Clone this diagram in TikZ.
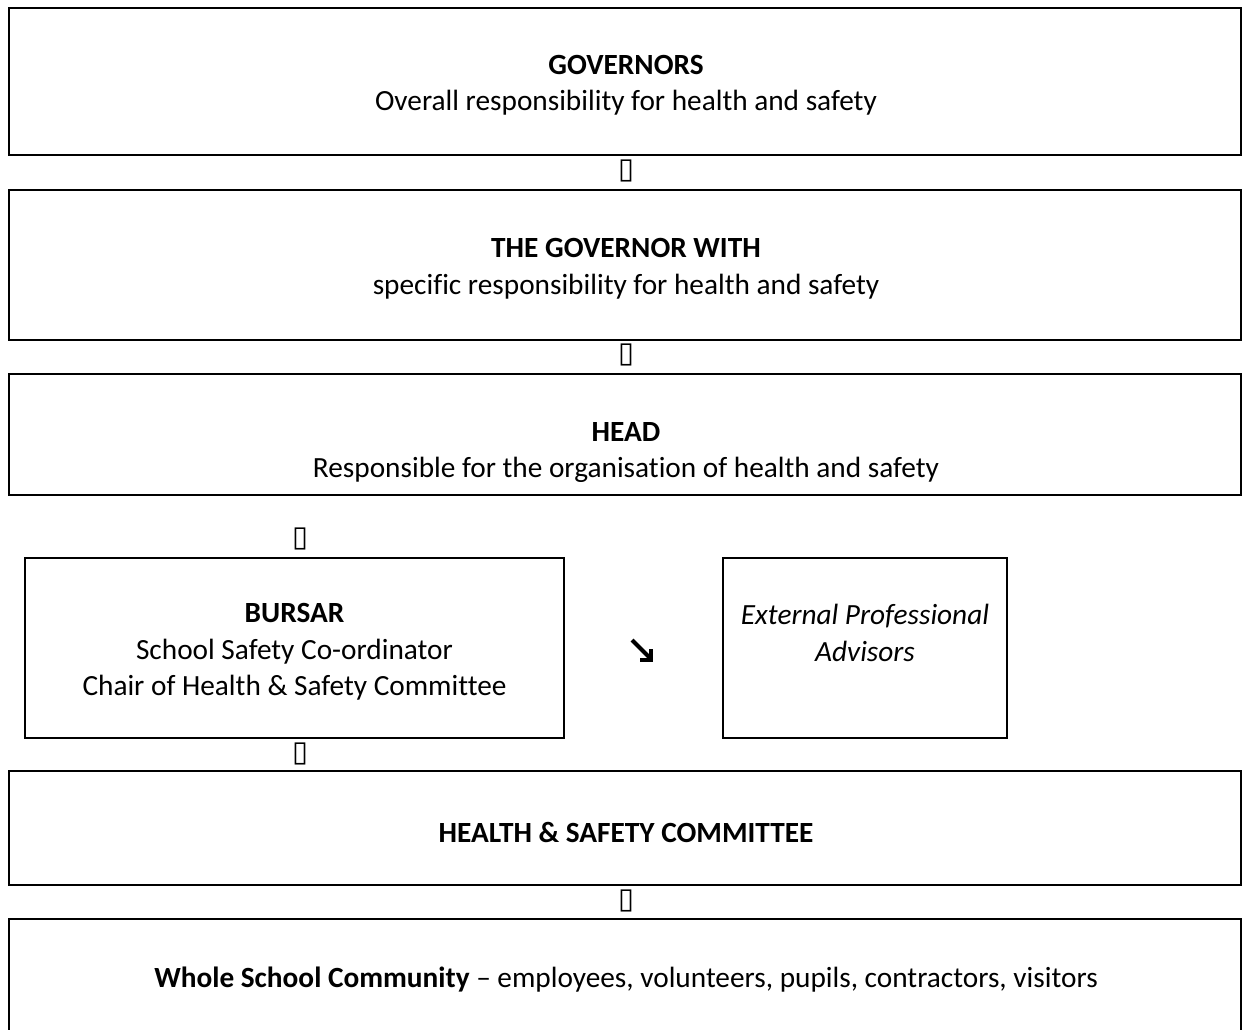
\documentclass[tikz,border=0pt]{standalone}
\usepackage{fontspec}
\setmainfont{Carlito}[Ligatures=NoCommon]
\newfontfamily\symfont{DejaVu Sans}

\begin{document}
\begin{tikzpicture}[x=1pt,y=1pt,
  box/.style={draw,line width=2pt,inner sep=0pt},
  txt/.style={align=center,font=\fontsize{29.3}{36.5}\selectfont,inner sep=0pt},
  gap/.style={font=\symfont\fontsize{29}{29}\selectfont,inner sep=0pt}]
\useasboundingbox (0,0) rectangle (1243,-1029);
\clip (0,0) rectangle (1243,-1029);
% boxes
\node[box,minimum width=1232pt,minimum height=147pt] (governors) at (625,-81.5) {};
\node[box,minimum width=1232pt,minimum height=150pt] (governor) at (625,-265) {};
\node[box,minimum width=1232pt,minimum height=121pt] (head) at (625,-434.5) {};
\node[box,minimum width=539pt,minimum height=180pt] (bursar) at (294.5,-648) {};
\node[box,minimum width=284pt,minimum height=180pt] (advisors) at (865,-648) {};
\node[box,minimum width=1232pt,minimum height=114pt] (committee) at (625,-828) {};
\node[box,minimum width=1232pt,minimum height=200pt] (community) at (625,-1019) {};
% texts
\node[txt] (governorstxt) at (626,-85) {\textbf{GOVERNORS}\\Overall responsibility for health and safety};
\node[txt] (governortxt) at (626,-268.5) {\textbf{THE GOVERNOR WITH}\\specific responsibility for health and safety};
\node[txt] (headtxt) at (626,-452.5) {\textbf{HEAD}\\Responsible for the organisation of health and safety};
\node[txt] (bursartxt) at (294.5,-652) {\textbf{BURSAR}\\School Safety Co-ordinator\\Chair of Health \& Safety Committee};
\node[txt] (advisorstxt) at (865,-633) {\textit{External Professional}\\\textit{Advisors}};
\node[txt] (committeetxt) at (626,-832) {\textbf{HEALTH \& SAFETY COMMITTEE}};
\node[txt] (communitytxt) at (626,-980) {\textbf{Whole School Community} -- employees, volunteers, pupils, contractors, visitors};
% marks between the boxes
\node[gap] (m1) at (626.5,-171) {▯};
\node[gap] (m2) at (626.5,-355) {▯};
\node[gap] (m3) at (300,-539) {▯};
\node[gap] (m4) at (300,-754) {▯};
\node[gap] (m5) at (626.5,-901) {▯};
% arrow towards the advisors
\coordinate (a1) at (632,-640);
\coordinate (a2) at (650,-658);
\draw[line width=4pt] (a1) -- (a2);
\draw[line width=4pt] (640,-660) -- (651,-660) -- (651,-649);
\end{tikzpicture}
\end{document}
